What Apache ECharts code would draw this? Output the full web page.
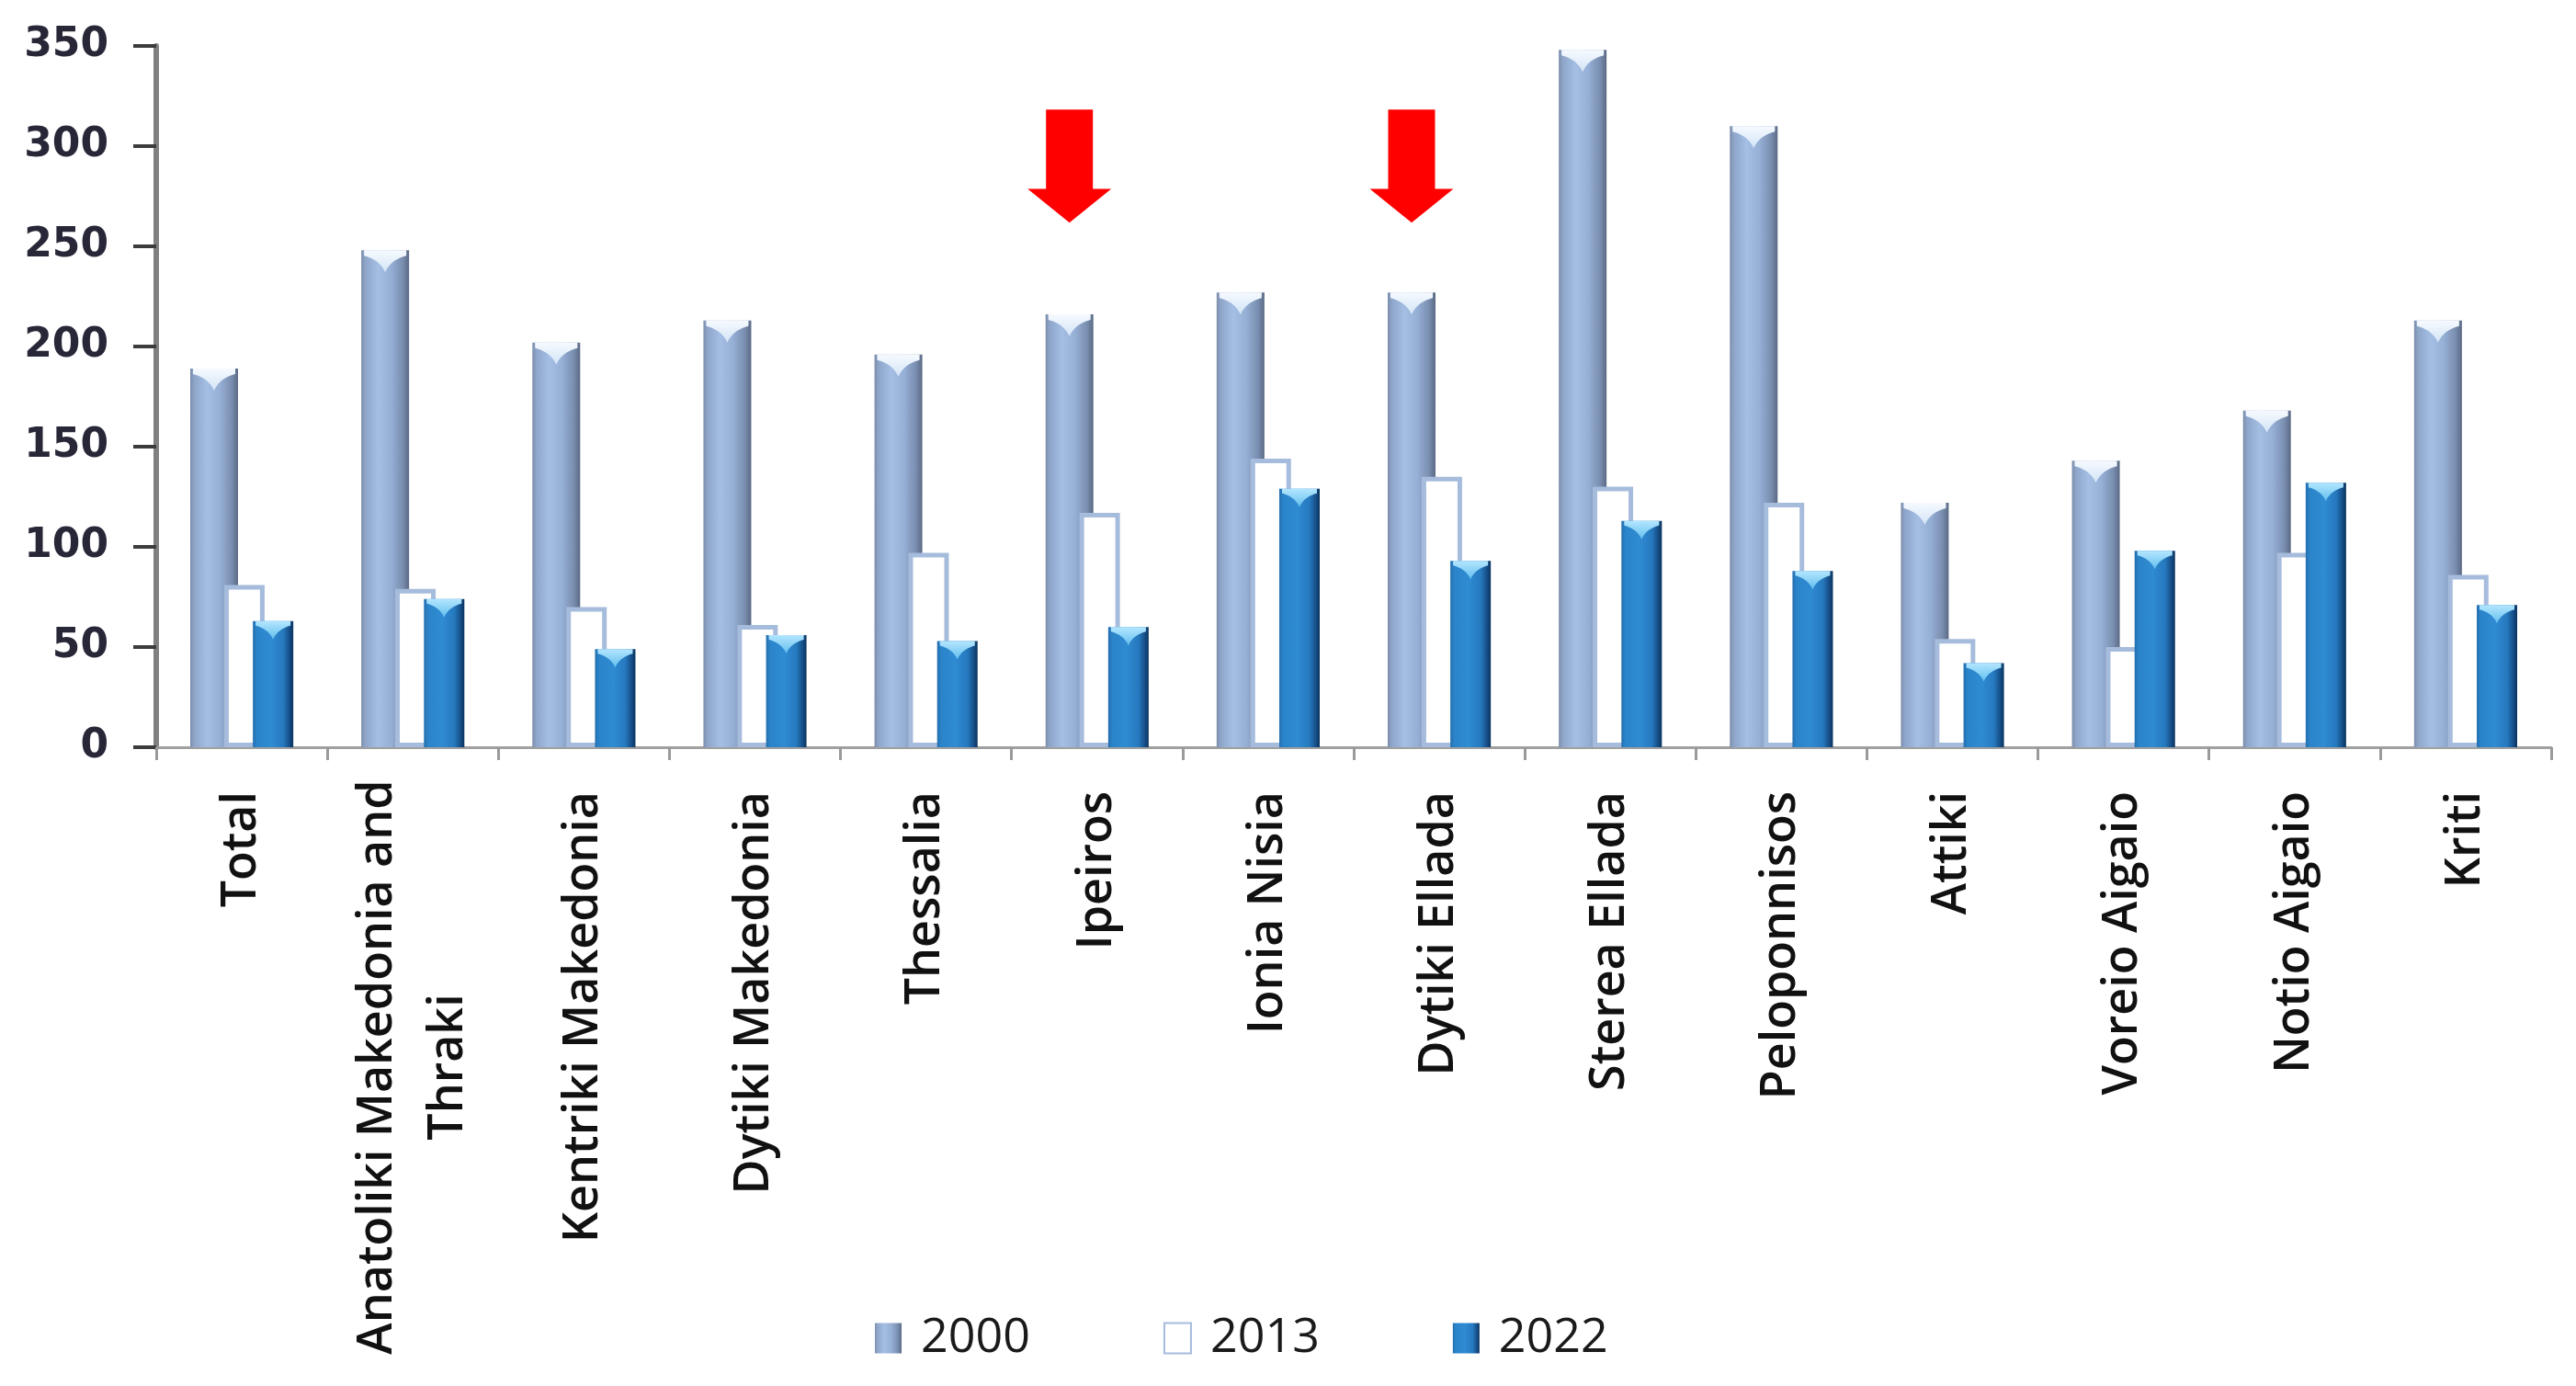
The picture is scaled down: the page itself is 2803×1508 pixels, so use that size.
<!DOCTYPE html>
<html>
<head>
<meta charset="utf-8">
<script src="https://cdn.jsdelivr.net/npm/echarts@6/dist/echarts.min.js"></script>
<style>
html,body{margin:0;padding:0;background:#ffffff;}
#chart{width:2803px;height:1508px;}
</style>
</head>
<body>
<div id="chart"></div>
<script>
const categories = ['Total','Anatoliki Makedonia and Thraki','Kentriki Makedonia','Dytiki Makedonia','Thessalia','Ipeiros','Ionia Nisia','Dytiki Ellada','Sterea Ellada','Peloponnisos','Attiki','Voreio Aigaio','Notio Aigaio','Kriti'];
const seriesNames = ['2000','2013','2022'];
const values2000 = [189, 248, 202, 213, 196, 216, 227, 227, 348, 310, 122, 143, 168, 213];
const values2013 = [81, 79, 70, 61, 97, 117, 144, 135, 130, 122, 54, 50, 97, 86];
const values2022 = [63, 74, 49, 56, 53, 60, 129, 93, 113, 88, 42, 98, 132, 71];
const yTicks = [0, 50, 100, 150, 200, 250, 300, 350];
const arrowCategories = ['Ipeiros', 'Dytiki Ellada'];
const arrowValue = 290;

const labelFont = 'Open Sans';
const barGap = '-29%';

const grad2000 = new echarts.graphic.LinearGradient(0, 0, 1, 0, [
  {offset: 0, color: '#7b8ca9'},
  {offset: 0.08, color: '#8ea5c9'},
  {offset: 0.35, color: '#a4bee4'},
  {offset: 0.62, color: '#96afd5'},
  {offset: 0.86, color: '#7a8fb1'},
  {offset: 1, color: '#5b6a84'}
]);
const grad2022 = new echarts.graphic.LinearGradient(0, 0, 1, 0, [
  {offset: 0, color: '#236eae'},
  {offset: 0.1, color: '#2b84c9'},
  {offset: 0.45, color: '#2f8bd2'},
  {offset: 0.75, color: '#2679be'},
  {offset: 0.9, color: '#16508a'},
  {offset: 1, color: '#0a335d'}
]);
const hl2000 = new echarts.graphic.LinearGradient(0, 0, 0, 1, [
  {offset: 0, color: '#f6faff'},
  {offset: 1, color: '#d3e4f6'}
]);
const hl2022 = new echarts.graphic.LinearGradient(0, 0, 0, 1, [
  {offset: 0, color: '#b4e6ff'},
  {offset: 1, color: '#62bfee'}
]);
const chevron = 'path://M0,0 L100,0 L100,25 C80,35 60,55 50,100 C40,55 20,35 0,25 Z';
const arrowPath = 'path://M20,0 L71,0 L71,70 L91,70 L45.5,100 L0,70 L20,70 Z';

const chart = echarts.init(document.getElementById('chart'), null, {renderer: 'canvas'});

const option = {
  backgroundColor: '#ffffff',
  animation: false,
  grid: {left: 170, right: 27, top: 50, bottom: 695},
  legend: {
    data: seriesNames,
    left: 947,
    top: 1425,
    icon: 'rect',
    itemWidth: 29,
    itemHeight: 33,
    itemGap: 145,
    textStyle: {fontFamily: labelFont, fontSize: 52, color: '#1a1a1a', padding: [0, 0, 0, 16]}
  },
  xAxis: {
    type: 'category',
    data: categories,
    axisLine: {lineStyle: {color: '#a0a0a0', width: 3}},
    axisTick: {show: true, length: 14, lineStyle: {color: '#9a9a9a', width: 3}},
    splitLine: {show: false},
    axisLabel: {
      interval: 0,
      rotate: 90,
      margin: 48,
      fontFamily: labelFont,
      fontSize: 52,
      fontWeight: 600,
      color: '#111111',
      lineHeight: 77,
      formatter: function (v) {
        if (v === 'Anatoliki Makedonia and Thraki') {
          return '{c|Anatoliki Makedonia and}\n{c|Thraki}';
        }
        return v;
      },
      rich: {
        c: {width: 600, align: 'center', fontFamily: labelFont, fontSize: 52, fontWeight: 600, color: '#111111', lineHeight: 77}
      }
    }
  },
  yAxis: {
    type: 'value',
    min: yTicks[0],
    max: yTicks[yTicks.length - 1],
    interval: yTicks[1] - yTicks[0],
    axisLine: {show: true, lineStyle: {color: '#808080', width: 6}},
    axisTick: {show: true, length: 25, lineStyle: {color: '#3c3c3c', width: 4}},
    splitLine: {show: false},
    axisLabel: {margin: 52, fontFamily: 'DejaVu Sans', fontWeight: 'bold', fontSize: 44, color: '#272738'}
  },
  series: [
    {
      name: seriesNames[0], type: 'bar', data: values2000, barWidth: 52, barGap: barGap,
      itemStyle: {color: grad2000},
      markPoint: {
        symbol: arrowPath,
        symbolSize: [91, 123],
        itemStyle: {color: '#ff0000'},
        label: {show: false},
        data: arrowCategories.map(function (c) { return {coord: [c, arrowValue]}; })
      }
    },
    {
      name: seriesNames[1], type: 'bar', data: values2013, barWidth: 44, barGap: barGap,
      itemStyle: {color: '#ffffff', borderColor: '#a6bcdc', borderWidth: 5}
    },
    {
      name: seriesNames[2], type: 'bar', data: values2022, barWidth: 44, barGap: barGap,
      itemStyle: {color: grad2022}
    },
    {
      name: 'hl2000', type: 'pictorialBar', data: values2000, barWidth: 52, barGap: barGap,
      symbol: chevron, symbolSize: [46, 24], symbolPosition: 'end', silent: true, z: 3,
      itemStyle: {color: hl2000}
    },
    {
      name: 'hl2013', type: 'pictorialBar', data: values2013, barWidth: 44, barGap: barGap,
      symbol: 'rect', symbolSize: [1, 1], symbolPosition: 'end', silent: true, z: 3,
      itemStyle: {opacity: 0}
    },
    {
      name: 'hl2022', type: 'pictorialBar', data: values2022, barWidth: 44, barGap: barGap,
      symbol: chevron, symbolSize: [38, 20], symbolPosition: 'end', silent: true, z: 3,
      itemStyle: {color: hl2022}
    }
  ]
};
chart.setOption(option);
</script>
</body>
</html>
